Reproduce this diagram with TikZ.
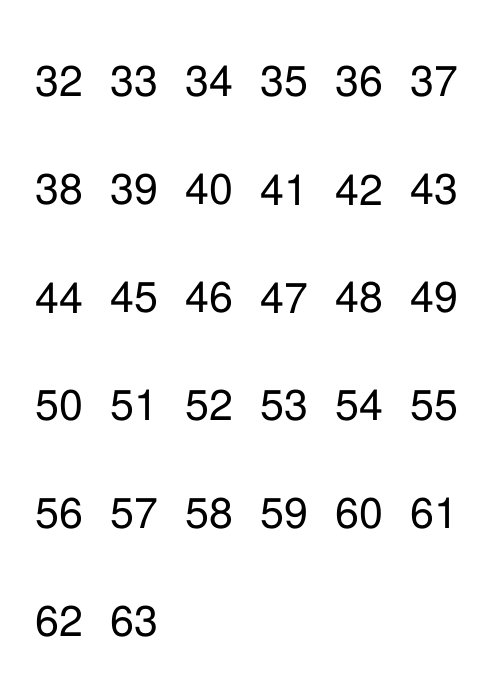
\documentclass[tikz,border=0pt]{standalone}
\usepackage{fontspec}
\setmainfont{TeX Gyre Heros}
\begin{document}
\begin{tikzpicture}[x=1pt,y=1pt,
  num/.style={inner sep=0pt,font=\fontsize{43}{48}\selectfont,text=black}]
\useasboundingbox (0,0) rectangle (500,700);
\foreach \n [count=\i from 0] in {32,...,63}{
  \pgfmathtruncatemacro{\c}{mod(\i,6)}
  \pgfmathtruncatemacro{\r}{div(\i,6)}
  \node[num] (n\n) at ({59+75*\c},{700-(82+108*\r)}) {\n};
}
\end{tikzpicture}
\end{document}
